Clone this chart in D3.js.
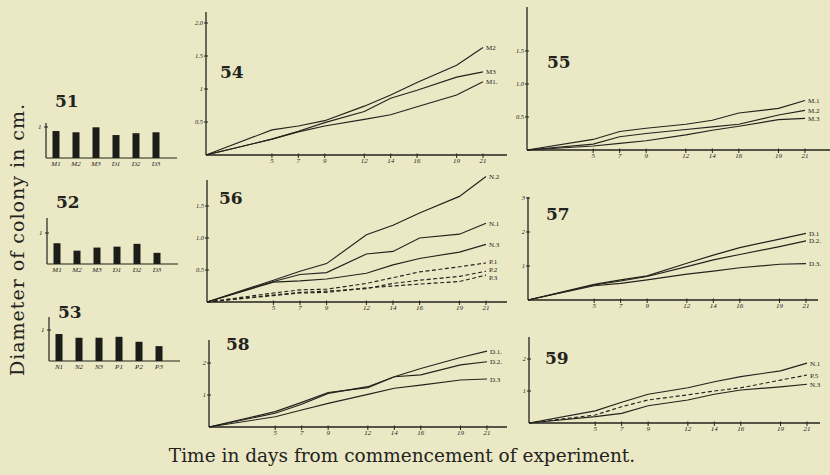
<!DOCTYPE html>
<html>
<head>
<meta charset="utf-8">
<script src="https://cdn.jsdelivr.net/npm/d3@7/dist/d3.min.js"></script>
<style>
  html, body { margin: 0; padding: 0; background: #ebe8c5; }
  svg { display: block; }
  text { fill: #23231d; }
</style>
</head>
<body>
<script>
// days the colonies were measured
const days = [0, 5, 7, 9, 12, 14, 16, 19, 21]
const dayTicks = [5, 7, 9, 12, 14, 16, 19, 21]

// bar panels 51-53
const bar51Cats = ["M1", "M2", "M3", "D1", "D2", "D3"]
const bar51Vals = [0.87, 0.83, 0.99, 0.74, 0.80, 0.83]
const bar52Cats = ["M1", "M2", "M3", "D1", "D2", "D3"]
const bar52Vals = [0.67, 0.43, 0.53, 0.56, 0.65, 0.36]
const bar53Cats = ["N1", "N2", "N3", "P1", "P2", "P3"]
const bar53Vals = [0.87, 0.75, 0.75, 0.78, 0.62, 0.48]

// panel 54
const p54Names = ["M2", "M3", "M1."]
const p54M2 = [0, 0.38, 0.44, 0.52, 0.74, 0.91, 1.10, 1.36, 1.63]
const p54M3 = [0, 0.24, 0.36, 0.49, 0.66, 0.86, 0.98, 1.18, 1.26]
const p54M1 = [0, 0.24, 0.35, 0.44, 0.54, 0.61, 0.73, 0.91, 1.11]
const p54Ticks = [0.5, 1, 1.5, 2]
const p54TickLabels = ["0.5", "1", "1.5", "2.0"]

// panel 55
const p55Names = ["M.1", "M.2", "M.3"]
const p55M1 = [0, 0.16, 0.28, 0.33, 0.39, 0.45, 0.56, 0.63, 0.75]
const p55M2 = [0, 0.09, 0.20, 0.25, 0.31, 0.35, 0.39, 0.53, 0.60]
const p55M3 = [0, 0.06, 0.10, 0.14, 0.23, 0.30, 0.36, 0.46, 0.48]
const p55Ticks = [0.5, 1, 1.5]
const p55TickLabels = ["0.5", "1.0", "1.5"]

// panel 56
const p56Names = ["N.2", "N.1", "N.3", "P.1", "P.2", "P.3"]
const p56N2 = [0, 0.34, 0.48, 0.60, 1.05, 1.20, 1.39, 1.65, 1.96]
const p56N1 = [0, 0.32, 0.43, 0.46, 0.75, 0.79, 1.00, 1.06, 1.23]
const p56N3 = [0, 0.31, 0.33, 0.36, 0.45, 0.58, 0.68, 0.78, 0.90]
const p56P1 = [0, 0.14, 0.19, 0.20, 0.29, 0.38, 0.47, 0.55, 0.61]
const p56P2 = [0, 0.11, 0.15, 0.17, 0.21, 0.29, 0.34, 0.40, 0.48]
const p56P3 = [0, 0.10, 0.14, 0.15, 0.22, 0.25, 0.28, 0.32, 0.42]
const p56Ticks = [0.5, 1, 1.5]
const p56TickLabels = ["0.5", "1.0", "1.5"]

// panel 57
const p57Names = ["D.1", "D.2.", "D.3."]
const p57D1 = [0, 0.46, 0.59, 0.71, 1.08, 1.32, 1.54, 1.79, 1.96]
const p57D2 = [0, 0.44, 0.56, 0.69, 0.98, 1.18, 1.34, 1.57, 1.74]
const p57D3 = [0, 0.42, 0.49, 0.59, 0.76, 0.85, 0.95, 1.05, 1.07]
const p57Ticks = [1, 2, 3]
const p57TickLabels = ["1", "2", "3"]

// panel 58
const p58Names = ["D.1.", "D.2.", "D.3"]
const p58D1 = [0, 0.48, 0.77, 1.08, 1.23, 1.57, 1.83, 2.17, 2.37]
const p58D2 = [0, 0.43, 0.71, 1.05, 1.26, 1.57, 1.63, 1.94, 2.04]
const p58D3 = [0, 0.32, 0.53, 0.74, 1.02, 1.21, 1.31, 1.47, 1.50]
const p58Ticks = [1, 2]
const p58TickLabels = ["1", "2"]

// panel 59
const p59Names = ["N.1", "P.5", "N.3"]
const p59N1 = [0, 0.38, 0.65, 0.90, 1.10, 1.29, 1.45, 1.63, 1.87]
const p59P5 = [0, 0.25, 0.51, 0.72, 0.88, 1.00, 1.10, 1.34, 1.50]
const p59N3 = [0, 0.20, 0.30, 0.54, 0.72, 0.90, 1.03, 1.13, 1.21]
const p59Ticks = [1, 2]
const p59TickLabels = ["1", "2"]

const ink = "#23231d"
const W = 830, H = 475

let svg = d3.select("body").append("svg")
    .attr("width", W)
    .attr("height", H)

svg.append("rect")
    .attr("width", W)
    .attr("height", H)
    .attr("fill", "#ebe8c5")

// ---- bar panels ----
function barPanel(cats, vals, lay) {
    let g = svg.append("g")
    let x = d3.scalePoint().domain(cats).range([lay.x0 + 10, lay.x0 + 110])
    let y = d3.scaleLinear().domain([0, 1]).range([lay.y0, lay.y0 - 31])

    g.append("line")
        .attr("x1", lay.x0).attr("x2", lay.x0)
        .attr("y1", lay.y0).attr("y2", lay.yTop)
        .attr("stroke", ink).attr("stroke-width", 1.2)
    g.append("line")
        .attr("x1", lay.x0).attr("x2", lay.xEnd)
        .attr("y1", lay.y0).attr("y2", lay.y0)
        .attr("stroke", ink).attr("stroke-width", 1.2)
    g.append("line")
        .attr("x1", lay.x0 - 2).attr("x2", lay.x0 + 2)
        .attr("y1", y(1)).attr("y2", y(1))
        .attr("stroke", ink).attr("stroke-width", 1)
    g.append("text")
        .attr("x", lay.x0 - 8).attr("y", y(1) + 2)
        .attr("font-family", "Liberation Serif").attr("font-style", "italic")
        .attr("font-size", 7)
        .text("1")

    g.selectAll("rect.bar")
        .data(vals)
        .enter()
        .append("rect")
        .attr("class", "bar")
        .attr("x", (d, i) => x(cats[i]) - 3.5)
        .attr("y", d => y(d))
        .attr("width", 7)
        .attr("height", d => lay.y0 - y(d))
        .attr("fill", "#1c1c18")

    g.selectAll("text.cat")
        .data(cats)
        .enter()
        .append("text")
        .attr("class", "cat")
        .attr("x", d => x(d))
        .attr("y", lay.y0 + 8)
        .attr("text-anchor", "middle")
        .attr("font-family", "Liberation Serif").attr("font-style", "italic")
        .attr("font-size", 7)
        .text(d => d)

    g.append("text")
        .attr("x", lay.x0 + 9).attr("y", lay.titleY)
        .attr("font-family", "DejaVu Serif").attr("font-weight", "bold")
        .attr("font-size", 17)
        .text(lay.title)
}

barPanel(bar51Cats, bar51Vals, { x0: 46, y0: 158, yTop: 123, xEnd: 177, title: "51", titleY: 107 })
barPanel(bar52Cats, bar52Vals, { x0: 47, y0: 264, yTop: 218, xEnd: 178, title: "52", titleY: 208 })
barPanel(bar53Cats, bar53Vals, { x0: 49, y0: 361, yTop: 317, xEnd: 180, title: "53", titleY: 318 })

// ---- line panels ----
function linePanel(series, names, dashed, ticks, tickLabels, lay) {
    let g = svg.append("g")
    let x = d3.scaleLinear().domain([0, 21]).range([lay.x0, lay.x21])
    let y = d3.scaleLinear().domain([0, 1]).range([lay.y0, lay.y0 - lay.unit])
    let nudge = lay.nudge || series.map(() => 0)

    g.append("line")
        .attr("x1", lay.x0).attr("x2", lay.x0)
        .attr("y1", lay.y0).attr("y2", lay.yTop)
        .attr("stroke", ink).attr("stroke-width", 1.3)
    g.append("line")
        .attr("x1", lay.x0).attr("x2", lay.xEnd)
        .attr("y1", lay.y0).attr("y2", lay.y0)
        .attr("stroke", ink).attr("stroke-width", 1.3)

    // y ticks
    g.selectAll("line.yt")
        .data(ticks)
        .enter()
        .append("line")
        .attr("class", "yt")
        .attr("x1", lay.x0 - 2).attr("x2", lay.x0 + 2)
        .attr("y1", d => y(d)).attr("y2", d => y(d))
        .attr("stroke", ink).attr("stroke-width", 1)
    g.selectAll("text.yt")
        .data(ticks)
        .enter()
        .append("text")
        .attr("class", "yt")
        .attr("x", lay.x0 - 3)
        .attr("y", d => y(d) + 2)
        .attr("text-anchor", "end")
        .attr("font-family", "Liberation Serif").attr("font-style", "italic")
        .attr("font-size", 6.5)
        .text((d, i) => tickLabels[i])

    // x ticks
    g.selectAll("line.xt")
        .data(dayTicks)
        .enter()
        .append("line")
        .attr("class", "xt")
        .attr("x1", d => x(d)).attr("x2", d => x(d))
        .attr("y1", lay.y0 - 1.5).attr("y2", lay.y0 + 3)
        .attr("stroke", ink).attr("stroke-width", 1)
    g.selectAll("text.xt")
        .data(dayTicks)
        .enter()
        .append("text")
        .attr("class", "xt")
        .attr("x", d => x(d))
        .attr("y", lay.y0 + 8)
        .attr("text-anchor", "middle")
        .attr("font-family", "Liberation Serif").attr("font-style", "italic")
        .attr("font-size", 7)
        .text(d => d)

    let line = d3.line()
        .x((d, i) => x(days[i]))
        .y(d => y(d))

    series.forEach((s, k) => {
        g.append("path")
            .attr("d", line(s))
            .attr("fill", "none")
            .attr("stroke", ink)
            .attr("stroke-width", 1.15)
            .attr("stroke-dasharray", dashed[k] ? "4,2.5" : null)
        g.append("text")
            .attr("x", x(21) + 3)
            .attr("y", y(s[s.length - 1]) + 2.5 + nudge[k])
            .attr("font-family", "Liberation Serif")
            .attr("font-size", 7)
            .text(names[k])
    })

    g.append("text")
        .attr("x", lay.titleX).attr("y", lay.titleY)
        .attr("font-family", "DejaVu Serif").attr("font-weight", "bold")
        .attr("font-size", 17)
        .text(lay.title)
}

linePanel([p54M2, p54M3, p54M1], p54Names, [0, 0, 0], p54Ticks, p54TickLabels,
    { x0: 206, x21: 483, xEnd: 507, y0: 155, unit: 66, yTop: 12, title: "54", titleX: 220, titleY: 78 })
linePanel([p55M1, p55M2, p55M3], p55Names, [0, 0, 0], p55Ticks, p55TickLabels,
    { x0: 527, x21: 805, xEnd: 830, y0: 150, unit: 66, yTop: 7, title: "55", titleX: 547, titleY: 68 })
linePanel([p56N2, p56N1, p56N3, p56P1, p56P2, p56P3], p56Names, [0, 0, 0, 1, 1, 1], p56Ticks, p56TickLabels,
    { x0: 207, x21: 486, xEnd: 507, y0: 302, unit: 64, yTop: 180, title: "56", titleX: 219, titleY: 204,
      nudge: [0, 0, 0, -1, -2, 2] })
linePanel([p57D1, p57D2, p57D3], p57Names, [0, 0, 0], p57Ticks, p57TickLabels,
    { x0: 528, x21: 806, xEnd: 818, y0: 300, unit: 34, yTop: 197, title: "57", titleX: 546, titleY: 220 })
linePanel([p58D1, p58D2, p58D3], p58Names, [0, 0, 0], p58Ticks, p58TickLabels,
    { x0: 209, x21: 487, xEnd: 507, y0: 427, unit: 32, yTop: 340, title: "58", titleX: 226, titleY: 350 })
linePanel([p59N1, p59P5, p59N3], p59Names, [0, 1, 0], p59Ticks, p59TickLabels,
    { x0: 529, x21: 807, xEnd: 820, y0: 423, unit: 32, yTop: 337, title: "59", titleX: 545, titleY: 364 })

// axis titles
svg.append("text")
    .attr("transform", "translate(24,240) rotate(-90)")
    .attr("text-anchor", "middle")
    .attr("font-family", "DejaVu Serif")
    .attr("font-size", 19)
    .attr("textLength", 272)
    .attr("lengthAdjust", "spacing")
    .text("Diameter of colony in cm.")

svg.append("text")
    .attr("x", 402).attr("y", 462)
    .attr("text-anchor", "middle")
    .attr("font-family", "DejaVu Serif")
    .attr("font-size", 18.5)
    .text("Time in days from commencement of experiment.")
</script>
</body>
</html>
